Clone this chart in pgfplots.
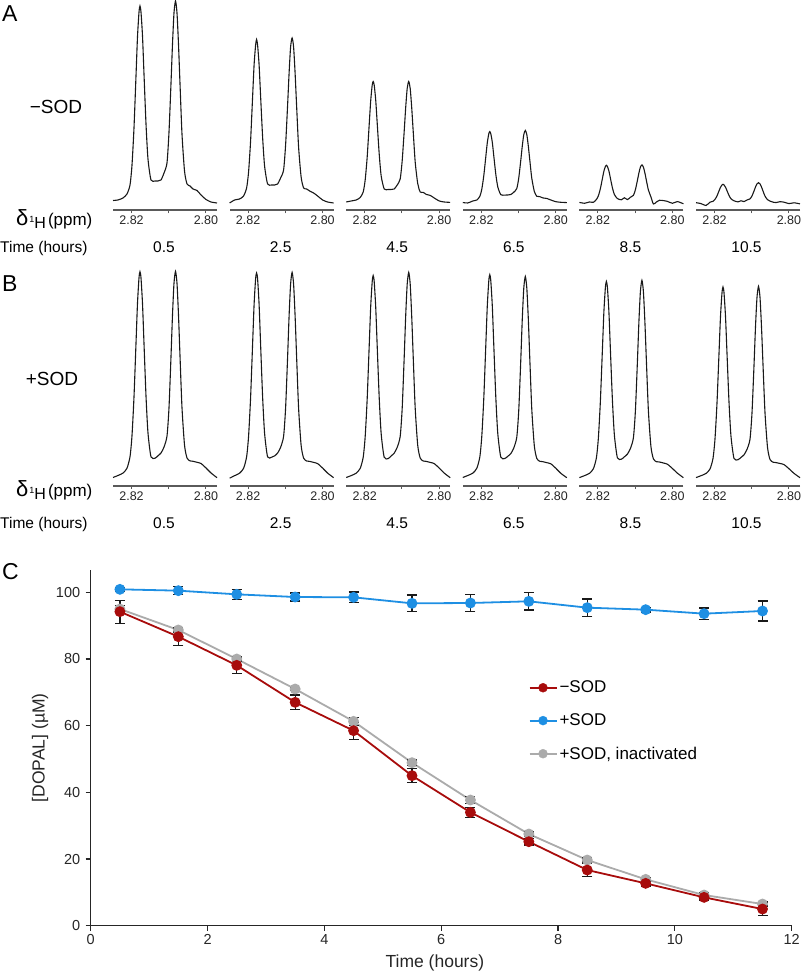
\documentclass[border=0pt]{standalone}
\usepackage{fontspec}
\setmainfont{Liberation Sans}
\usepackage{pgfplots}
\pgfplotsset{compat=1.18}
\usepackage{pgfplotstable}
\definecolor{cred}{HTML}{A80C0C}
\definecolor{cblue}{HTML}{1E8FE3}
\definecolor{cgray}{HTML}{ABABAB}
\definecolor{spaxis}{HTML}{5A5A5A}

\pgfplotstableread{
ppm      a1    a2    a3    a4    a5    a6    b1    b2    b3    b4    b5    b6
2.82497  9.5   7     8     7.5   7.6   7.3   8.2   7.5   8.2   8.2   8.1   8.1
2.82363  10    10    9     7     6.7   6.4   10.2  10    10.1  10.2  10    10
2.82229  12    11    10    9     8     4.5   12.6  12.5  12.5  12.5  12.3  12.2
2.82121  16    14    12.5  10    7.7   7.8   17.5  17.4  17.3  17.4  17    16.7
2.82040  25    22    18    13.6  10.5  8.7   28.9  28.8  28.5  28.6  27.9  27.3
2.81987  44.6  38    30    20.7  14.2  10.6  49.8  49.5  49    49.2  47.8  46.6
2.81933  82    69    53    34.3  21.4  14.1  88.6  88    87    87.4  84.8  82.6
2.81879  134   113   85.5  53.2  31.4  19.1  142.3 141.5 139.7 140.3 135.9 132.3
2.81839  173   145   109   67.2  38.8  22.7  182.1 181   178.8 179.6 173.9 169.1
2.81798  198   165   125   76.3  43.6  25.1  208   207   204.2 205.1 198.5 193.1
2.81772  204   170.5 128.4 78.4  44.7  25.7  214   212.7 210.1 211   204.3 198.7
2.81745  198   165   125   76.3  43.6  25.1  208   207   204.2 205.1 198.5 193.1
2.81704  174   145   110   67.6  39    22.8  182.1 181   178.8 179.6 173.9 169.1
2.81664  136   114   87    53.9  31.8  19.3  142.3 141.5 139.7 140.3 135.9 132.3
2.81610  86    73    56    35.7  22.2  14.5  89.6  89.1  88.1  88.5  85.7  83.5
2.81557  51    44    34    23.1  15.5  11.2  52.8  52.5  51.9  52.2  50.6  49.4
2.81476  30    26    21    15.3  11.4  9.2   28.9  28.8  28.5  28.6  27.9  27.3
2.81368  29    25    20.5  14.9  10.2  8.1   27.5  28.5  27.1  27.2  26.5  26
2.81288  29    25    20.5  15    12.2  9.2   29.9  29.8  29.8  29.4  28.9  28.3
2.81207  30    26    21    15.5  10.4  8.4   32.7  32.6  32.6  32.1  31.6  30.9
2.81126  37    32    25    17.8  12.7  10    38.6  38.4  38.4  37.8  37.2  36.3
2.81046  47    40    31    21.5  14.6  11.1  49.6  49.3  49.3  48.6  47.8  46.5
2.80992  78    65    49.5  32.4  20.3  14.1  78.1  77.7  77.7  76.4  75    73
2.80938  127   105   79    50    29.6  19    129.4 128.8 128.8 126.5 124.1 120.6
2.80898  166   137   102.6 64.1  37    23    170.8 170   170   167.3 163.8 159
2.80858  197   163   121.5 75.4  42.9  26.1  202.4 201.4 201.4 197.7 194   188.3
2.80817  209   172   128.5 79.6  45.1  27.3  214.3 213.3 213.3 209.3 205.4 199.4
2.80777  197   163   121.5 75.4  42.9  26.1  202.4 201.4 201.4 197.7 194   188.3
2.80737  166   137   102.6 64.1  37    23    170.8 170   170   167.3 163.8 159
2.80696  126   104   78.4  49.7  29.4  18.9  129.4 128.8 128.8 126.5 124.1 120.6
2.80643  76    63    48    31.7  20    13.9  78.1  77.7  77.7  76.4  75    73
2.80575  39    33    26.5  18.6  13.1  10.3  40.6  40.4  40.4  39.8  39.2  38.2
2.80508  26    22    18    13.7  6     8.9   27.7  27.6  27.6  27.2  26.8  26.2
2.80427  24    21    17.6  13.3  8     7.8   24.8  24.7  24.7  24.4  24    23.5
2.80347  21    19    15.6  12.1  9.7   7.4   24.4  24.3  24.3  24    23.7  23.1
2.80239  19.5  17    14.6  11.5  9.4   8.3   23.4  23.3  23.3  23    22.7  22.2
2.80132  15    14    12    10    8.6   7.8   22.2  22.1  22.1  21.9  21.5  21.1
2.79997  10.5  10    9     8.3   6.7   6.4   17.7  17.6  17.6  17.4  17.2  16.9
2.79863  8     8     8     7.7   8.4   7.2   12.7  12.6  12.6  12.4  12.5  12.3
2.79702  7     7     7.6   7.4   6.2   6.1   8     8     8     8     8     8
}\spectra

\pgfplotsset{
  spec/.style={scale only axis, width=104pt, y=1pt, ymin=0, ymax=215,
    xmin=2.79702, xmax=2.82497, x dir=reverse,
    axis x line=bottom, axis y line=none,
    axis line style={-, spaxis, line width=2pt},
    xtick={2.80,2.81,2.82}, xticklabels={2.80,,2.82},
    tick align=outside, major tick length=3.5pt,
    tick style={spaxis, line width=1pt},
    xticklabel style={font=\fontsize{12.5}{13}\selectfont, text=black!85, inner sep=2pt},
    clip=false, anchor=south west},
  spcurve/.style={black!90, line width=1.1pt, smooth, tension=0.4, no markers}
}

\begin{document}
\begin{tikzpicture}[x=1pt,y=1pt]
\useasboundingbox (0,0) rectangle (800,973);

% ---------- Panel A ----------
\node[anchor=base west, inner sep=0, font=\fontsize{23}{23}\selectfont] at (2,951) {A};
\node[anchor=center, inner sep=0, font=\fontsize{19}{19}\selectfont] at (56,866) {−SOD};
\node[anchor=base west, inner sep=0] at (16,747) {\fontsize{22}{22}\selectfont δ\kern1pt\raisebox{-3pt}{\fontsize{9}{9}\selectfont\raisebox{6pt}{1}\fontsize{16}{16}\selectfont H}\kern2pt\fontsize{17}{17}\selectfont(ppm)};
\node[anchor=base west, inner sep=0, font=\fontsize{15.5}{16}\selectfont] at (0,720) {Time (hours)};

\begin{axis}[spec, at={(113pt,763pt)}]
\addplot[spcurve] table[x=ppm,y=a1]{\spectra};
\end{axis}
\begin{axis}[spec, at={(229.6pt,763pt)}]
\addplot[spcurve] table[x=ppm,y=a2]{\spectra};
\end{axis}
\begin{axis}[spec, at={(346.2pt,763pt)}]
\addplot[spcurve] table[x=ppm,y=a3]{\spectra};
\end{axis}
\begin{axis}[spec, at={(462.8pt,763pt)}]
\addplot[spcurve] table[x=ppm,y=a4]{\spectra};
\end{axis}
\begin{axis}[spec, at={(579.4pt,763pt)}]
\addplot[spcurve] table[x=ppm,y=a5]{\spectra};
\end{axis}
\begin{axis}[spec, at={(696pt,763pt)}]
\addplot[spcurve] table[x=ppm,y=a6]{\spectra};
\end{axis}

\foreach \cx/\t in {164/0.5, 280.6/2.5, 397.2/4.5, 513.8/6.5, 630.4/8.5, 746.5/10.5}{
  \node[anchor=base, inner sep=0, font=\fontsize{15.5}{16}\selectfont] at (\cx,720) {\t};
  \node[anchor=base, inner sep=0, font=\fontsize{15.5}{16}\selectfont] at (\cx,444) {\t};
}

% ---------- Panel B ----------
\node[anchor=base west, inner sep=0, font=\fontsize{23}{23}\selectfont] at (2,681) {B};
\node[anchor=center, inner sep=0, font=\fontsize{19}{19}\selectfont] at (52,594) {+SOD};
\node[anchor=base west, inner sep=0] at (16,476) {\fontsize{22}{22}\selectfont δ\kern1pt\raisebox{-3pt}{\fontsize{9}{9}\selectfont\raisebox{6pt}{1}\fontsize{16}{16}\selectfont H}\kern2pt\fontsize{17}{17}\selectfont(ppm)};
\node[anchor=base west, inner sep=0, font=\fontsize{15.5}{16}\selectfont] at (0,444) {Time (hours)};

\begin{axis}[spec, at={(113pt,487.3pt)}]
\addplot[spcurve] table[x=ppm,y=b1]{\spectra};
\end{axis}
\begin{axis}[spec, at={(229.6pt,487.3pt)}]
\addplot[spcurve] table[x=ppm,y=b2]{\spectra};
\end{axis}
\begin{axis}[spec, at={(346.2pt,487.3pt)}]
\addplot[spcurve] table[x=ppm,y=b3]{\spectra};
\end{axis}
\begin{axis}[spec, at={(462.8pt,487.3pt)}]
\addplot[spcurve] table[x=ppm,y=b4]{\spectra};
\end{axis}
\begin{axis}[spec, at={(579.4pt,487.3pt)}]
\addplot[spcurve] table[x=ppm,y=b5]{\spectra};
\end{axis}
\begin{axis}[spec, at={(696pt,487.3pt)}]
\addplot[spcurve] table[x=ppm,y=b6]{\spectra};
\end{axis}

% ---------- Panel C ----------
\node[anchor=base west, inner sep=0, font=\fontsize{23}{23}\selectfont] at (2,393) {C};

\begin{axis}[at={(90.7pt,47.3pt)}, anchor=south west, scale only axis,
  width=701pt, height=355.7pt,
  xmin=0, xmax=12, ymin=0, ymax=106.7,
  axis lines=left, axis line style={-, line width=1.2pt, black!85},
  xtick={0,2,4,6,8,10,12}, ytick={0,20,40,60,80,100},
  tick align=outside, major tick length=5pt,
  tick style={line width=1.2pt, black!85},
  ticklabel style={font=\fontsize{14.5}{15}\selectfont, text=black!85},
  yticklabel style={xshift=-2pt},
  /pgf/number format/assume math mode=true,
  xlabel={Time (hours)}, ylabel={[DOPAL] (µM)},
  label style={font=\fontsize{17.5}{18}\selectfont, text=black!85},
  xlabel style={at={(axis description cs:0.491,-0.105)}, anchor=center},
  ylabel style={at={(axis description cs:-0.0722,0.5)}, anchor=center},
  clip=false,
  legend style={at={(axis description cs:0.62,0.708)}, anchor=north west,
    draw=none, fill=none, font=\fontsize{17}{18}\selectfont, row sep=9.5pt,
    nodes={inner ysep=5pt}},
  legend cell align=left,
  legend image code/.code={\draw[#1, line width=2pt] (0pt,0pt) -- (27pt,0pt); \fill[#1] (13.5pt,0pt) circle (4.5pt);},
  error bars/y dir=both, error bars/y explicit,
  error bars/error bar style={black!90, line width=1.2pt},
  error bars/error mark options={black!90, line width=1.2pt, mark size=5pt, rotate=90},
]
\addplot[forget plot, cgray, line width=1.8pt, mark=*, mark size=4.5pt, mark options={fill=cgray, draw=cgray}] coordinates {
(0.5,95.0) +- (0,1.0)
(1.5,88.7) +- (0,0.6)
(2.5,80.0) +- (0,0.6)
(3.5,71.0) +- (0,0.5)
(4.5,61.3) +- (0,1.2)
(5.5,48.9) +- (0,0.8)
(6.5,37.7) +- (0,1.1)
(7.5,27.5) +- (0,0.6)
(8.5,19.7) +- (0,0.6)
(9.5,13.9) +- (0,0.6)
(10.5,9.2) +- (0,0.6)
(11.5,6.5) +- (0,0.6)
};
\addplot[forget plot, cblue, line width=1.8pt, mark=*, mark size=4.5pt, mark options={fill=cblue, draw=cblue}] coordinates {
(0.5,100.9) +- (0,0.5)
(1.5,100.5) +- (0,1.2)
(2.5,99.4) +- (0,1.5)
(3.5,98.6) +- (0,1.2)
(4.5,98.5) +- (0,1.6)
(5.5,96.7) +- (0,2.5)
(6.5,96.8) +- (0,2.5)
(7.5,97.3) +- (0,2.6)
(8.5,95.4) +- (0,2.6)
(9.5,94.8) +- (0,0.7)
(10.5,93.6) +- (0,1.7)
(11.5,94.4) +- (0,3.0)
};
\addplot[forget plot, cred, line width=1.8pt, mark=*, mark size=4.5pt, mark options={fill=cred, draw=cred}] coordinates {
(0.5,94.2) +- (0,3.45)
(1.5,86.7) +- (0,2.6)
(2.5,78.1) +- (0,2.5)
(3.5,67.0) +- (0,2.2)
(4.5,58.5) +- (0,2.55)
(5.5,45.0) +- (0,2.1)
(6.5,34.0) +- (0,1.5)
(7.5,25.2) +- (0,1.0)
(8.5,16.7) +- (0,1.9)
(9.5,12.7) +- (0,0.8)
(10.5,8.5) +- (0,0.8)
(11.5,5.0) +- (0,1.9)
};
\addlegendimage{cred}
\addlegendentry{−SOD}
\addlegendimage{cblue}
\addlegendentry{+SOD}
\addlegendimage{cgray}
\addlegendentry{+SOD, inactivated}
\end{axis}
\end{tikzpicture}
\end{document}
